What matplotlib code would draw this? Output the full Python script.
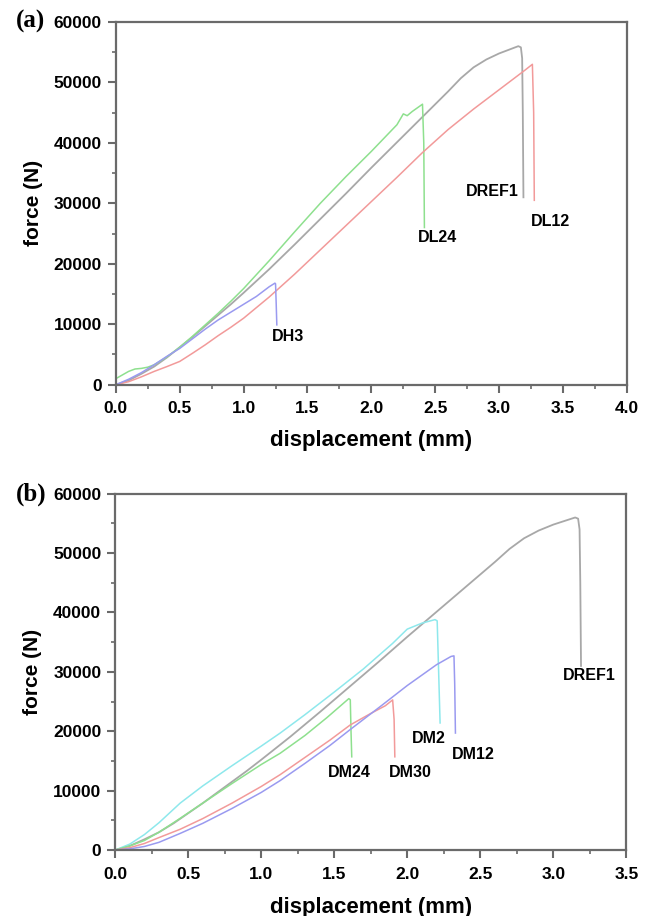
import matplotlib
matplotlib.use('Agg')
import matplotlib.pyplot as plt
from matplotlib.ticker import MultipleLocator

plt.rcParams['font.family'] = ['Liberation Sans', 'DejaVu Sans']
plt.rcParams['font.weight'] = 'bold'

# reference specimen DREF1 (same curve in both panels)
dref1_x = [0, 0.1, 0.2, 0.3, 0.4, 0.5, 0.6, 0.7, 0.8, 0.9, 1.0, 1.2, 1.4, 1.6, 1.8, 2.0, 2.2, 2.4,
           2.6, 2.7, 2.8, 2.9, 3.0, 3.1, 3.15, 3.17, 3.18, 3.185, 3.19]
dref1_y = [0, 700, 1800, 3000, 4500, 6200, 7900, 9700, 11500, 13300, 15200, 19100, 23200, 27400,
           31600, 35900, 40100, 44300, 48500, 50700, 52500, 53800, 54800, 55600, 56000, 55800,
           54000, 45000, 31000]

# panel (a)
dl24_x = [0, 0.05, 0.1, 0.15, 0.2, 0.25, 0.3, 0.4, 0.5, 0.6, 0.7, 0.8, 0.9, 1.0, 1.2, 1.4, 1.6,
          1.8, 2.0, 2.2, 2.25, 2.28, 2.32, 2.36, 2.4, 2.41, 2.415]
dl24_y = [1000, 1600, 2200, 2600, 2700, 2900, 3300, 4600, 6200, 8000, 9900, 11800, 13800, 15900,
          20500, 25300, 30000, 34400, 38600, 43000, 44800, 44500, 45200, 45800, 46400, 40000, 26000]
dl12_x = [0, 0.1, 0.2, 0.3, 0.4, 0.5, 0.6, 0.7, 0.8, 0.9, 1.0, 1.2, 1.4, 1.6, 1.8, 2.0, 2.2, 2.4,
          2.6, 2.8, 3.0, 3.2, 3.26, 3.27, 3.275]
dl12_y = [0, 500, 1300, 2200, 3000, 3850, 5200, 6600, 8100, 9500, 11000, 14500, 18300, 22300,
          26300, 30300, 34300, 38400, 42200, 45600, 48800, 52000, 53000, 45000, 30500]
dh3_x = [0, 0.1, 0.2, 0.3, 0.4, 0.5, 0.6, 0.7, 0.8, 0.9, 1.0, 1.1, 1.2, 1.245, 1.25, 1.255, 1.26]
dh3_y = [0, 900, 2000, 3300, 4700, 6000, 7600, 9200, 10700, 12000, 13300, 14600, 16200, 16800,
         16700, 13500, 9900]

# panel (b)
dm2_x = [0, 0.1, 0.2, 0.3, 0.445, 0.6, 0.8, 1.0, 1.13, 1.3, 1.5, 1.7, 1.9, 2.0, 2.1, 2.19, 2.205,
         2.215, 2.225]
dm2_y = [0, 1000, 2600, 4600, 7900, 10800, 14200, 17500, 19700, 22800, 26600, 30500, 34800, 37200,
         38200, 38800, 38600, 30000, 21400]
dm24_x = [0, 0.1, 0.2, 0.3, 0.445, 0.6, 0.8, 1.0, 1.13, 1.3, 1.45, 1.6, 1.61, 1.615, 1.62]
dm24_y = [0, 700, 1600, 3000, 5340, 7900, 11200, 14400, 16300, 19300, 22300, 25500, 25300, 20000,
          15700]
dm30_x = [0, 0.1, 0.2, 0.3, 0.445, 0.6, 0.8, 1.0, 1.13, 1.3, 1.47, 1.61, 1.75, 1.85, 1.9, 1.91,
          1.915]
dm30_y = [0, 400, 1100, 2100, 3500, 5300, 7900, 10700, 12700, 15600, 18500, 21070, 23000, 24300,
          25280, 22000, 15700]
dm12_x = [0, 0.1, 0.2, 0.3, 0.445, 0.6, 0.8, 1.0, 1.13, 1.3, 1.47, 1.61, 1.815, 2.0, 2.2, 2.3,
          2.32, 2.325, 2.33]
dm12_y = [0, 200, 600, 1300, 2800, 4500, 7000, 9700, 11700, 14600, 17600, 20300, 24160, 27700,
          31200, 32600, 32700, 28000, 19700]

x_ticks_a = [0.0, 0.5, 1.0, 1.5, 2.0, 2.5, 3.0, 3.5, 4.0]
x_ticks_b = [0.0, 0.5, 1.0, 1.5, 2.0, 2.5, 3.0, 3.5]
y_ticks = [0, 10000, 20000, 30000, 40000, 50000, 60000]

gray, green, red, blue, cyan = '#a8a8a8', '#8ee08e', '#f29a9a', '#9a9af0', '#8ee8ec'
axcol = '#6a6a6a'

fig = plt.figure(figsize=(6.47, 9.16), dpi=100)
axa = fig.add_axes([0.179, 0.580, 0.790, 0.396])
axb = fig.add_axes([0.178, 0.072, 0.790, 0.389])

axa.plot(dref1_x, dref1_y, color=gray, lw=1.3)
axa.plot(dl24_x, dl24_y, color=green, lw=1.1)
axa.plot(dl12_x, dl12_y, color=red, lw=1.1)
axa.plot(dh3_x, dh3_y, color=blue, lw=1.1)

axb.plot(dref1_x, dref1_y, color=gray, lw=1.3)
axb.plot(dm2_x, dm2_y, color=cyan, lw=1.1)
axb.plot(dm24_x, dm24_y, color=green, lw=1.1)
axb.plot(dm30_x, dm30_y, color=red, lw=1.1)
axb.plot(dm12_x, dm12_y, color=blue, lw=1.1)

for ax, xt, ly in [(axa, x_ticks_a, -0.124), (axb, x_ticks_b, -0.131)]:
    ax.set_xlim(0, xt[-1])
    ax.set_ylim(0, 60000)
    ax.set_xticks(xt, ['%.1f' % v for v in xt], fontsize=12.5, fontweight='bold')
    ax.set_yticks(y_ticks, [str(v) for v in y_ticks], fontsize=12.5, fontweight='bold')
    ax.xaxis.set_minor_locator(MultipleLocator(0.25))
    ax.yaxis.set_minor_locator(MultipleLocator(5000))
    for s in ax.spines.values():
        s.set_color(axcol)
        s.set_linewidth(1.6)
    ax.tick_params(which='major', direction='out', length=6, width=1.5, color=axcol, pad=4)
    ax.tick_params(axis='x', which='major', pad=6)
    ax.tick_params(which='minor', direction='out', length=3, width=1.2, color=axcol)
    ax.set_xlabel('displacement (mm)', fontsize=16, fontweight='bold')
    ax.xaxis.set_label_coords(0.5, ly)
    ax.set_ylabel('force (N)', fontsize=15, fontweight='bold', labelpad=8)

tk = dict(fontsize=11.5, fontweight='bold', ha='center', va='center')
axa.text(1.35, 7900, 'DH3', **tk)
axa.text(2.52, 24300, 'DL24', **tk)
axa.text(2.95, 31900, 'DREF1', **tk)
axa.text(3.40, 26950, 'DL12', **tk)

axb.text(3.25, 29330, 'DREF1', **tk)
axb.text(2.15, 18830, 'DM2', **tk)
axb.text(2.45, 16010, 'DM12', **tk)
axb.text(1.60, 13100, 'DM24', **tk)
axb.text(2.02, 13100, 'DM30', **tk)

fig.text(0.025, 1 - 21.5 / 916, '(a)', family=['Liberation Serif'], fontsize=18,
         fontweight='bold', va='center', ha='left')
fig.text(0.025, 1 - 494 / 916, '(b)', family=['Liberation Serif'], fontsize=18,
         fontweight='bold', va='center', ha='left')

fig.savefig('out.png', dpi=100)
